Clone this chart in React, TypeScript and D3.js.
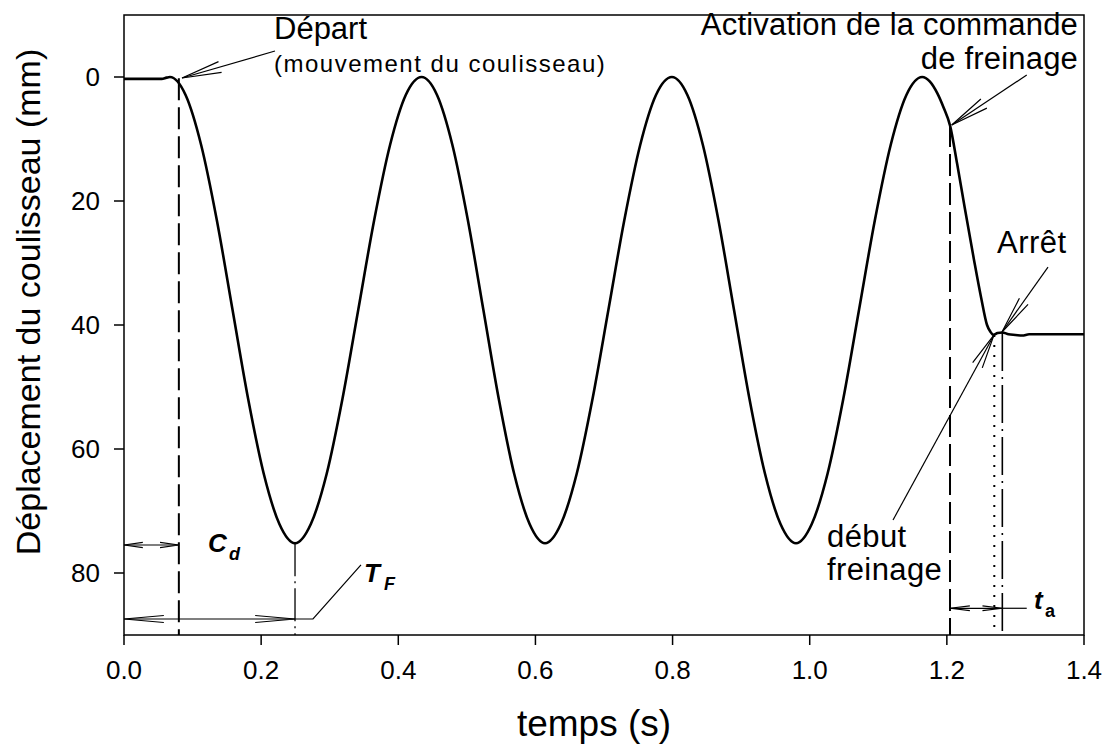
import React from "react";
import * as d3 from "d3";

// ---- Data ----
const timeS = [
  0.0, 0.03, 0.055, 0.062, 0.067,
  0.0898, 0.1126, 0.1354, 0.1582, 0.181, 0.2038, 0.2266, 0.2494,
  0.2725, 0.2956, 0.3186, 0.3417, 0.3648, 0.3879, 0.4109, 0.434,
  0.4565, 0.479, 0.5015, 0.524, 0.5465, 0.569, 0.5915, 0.614,
  0.6371, 0.6602, 0.6833, 0.7065, 0.7296, 0.7527, 0.7758, 0.799,
  0.8216, 0.8443, 0.8669, 0.8895, 0.9121, 0.9348, 0.9574, 0.98,
  1.003, 1.026, 1.049, 1.072, 1.095, 1.118, 1.141, 1.164,
  1.175, 1.186, 1.1955, 1.2046, 1.215, 1.225, 1.2396, 1.25, 1.2586, 1.2635, 1.268,
  1.274, 1.281, 1.29, 1.3, 1.31, 1.32, 1.36, 1.4,
];
const displacementMm = [
  0.3, 0.3, 0.3, 0.1, 0.0,
  2.9, 11.0, 23.1, 37.5, 51.9, 64.0, 72.1, 75.2,
  72.1, 64.0, 51.9, 37.5, 23.1, 11.0, 2.9, 0.0,
  2.9, 11.0, 23.1, 37.5, 51.9, 64.0, 72.1, 75.2,
  72.1, 64.0, 51.9, 37.5, 23.1, 11.0, 2.9, 0.0,
  2.9, 11.0, 23.1, 37.5, 51.9, 64.0, 72.1, 75.2,
  72.1, 64.0, 51.9, 37.5, 23.1, 11.0, 2.9, 0.0,
  0.7, 2.6, 5.0, 7.8, 14.0, 20.4, 29.5, 35.6, 40.0, 41.1, 41.6,
  41.3, 41.2, 41.5, 41.6, 41.7, 41.5, 41.5, 41.5,
];
const xTicks = [0, 0.2, 0.4, 0.6, 0.8, 1.0, 1.2, 1.4];
const yTicks = [0, 20, 40, 60, 80];

// event times (s)
const tStart = 0.08;
const tTrough = 0.2494;
const tCommand = 1.2046;
const tBrake = 1.2692;
const tStop = 1.2809;
// levels (mm)
const troughMm = 75.2;
const commandMm = 7.74;
const brakeMm = 41.6;
const stopMm = 41.3;
const cdLevel = 75.48;
const tfLevel = 87.42;
const taLevel = 85.69;

const W = 1104;
const H = 745;
const FONT = "'Liberation Sans', Arial, Helvetica, sans-serif";

export default function App() {
  const x = d3.scaleLinear().domain([0, 1.4]).range([124, 1084]);
  const y = d3.scaleLinear().domain([-10, 90]).range([15, 635]);
  const pts: [number, number][] = timeS.map((t, i) => [t, displacementMm[i]]);
  const line = d3
    .line<[number, number]>()
    .x((d) => x(d[0]))
    .y((d) => y(d[1]))
    .curve(d3.curveMonotoneX);

  const arrowHead = (
    tx: number, ty: number, fx: number, fy: number, len: number, deg: number
  ) => {
    const a = Math.atan2(fy - ty, fx - tx);
    const r = (deg * Math.PI) / 180;
    const p1 = [tx + len * Math.cos(a + r), ty + len * Math.sin(a + r)];
    const p2 = [tx + len * Math.cos(a - r), ty + len * Math.sin(a - r)];
    return `M${p1[0]},${p1[1]}L${tx},${ty}L${p2[0]},${p2[1]}`;
  };
  const arrow = (
    t1: number, m1: number, t2: number, m2: number, len = 38, deg = 8
  ) => {
    const fx = x(t1), fy = y(m1), tx = x(t2), ty = y(m2);
    return (
      <g>
        <line x1={fx} y1={fy} x2={tx} y2={ty} stroke="#000" strokeWidth={1.2} />
        <path d={arrowHead(tx, ty, fx, fy, len, deg)} fill="none" stroke="#000" strokeWidth={1.2} />
      </g>
    );
  };
  const dbl = (t1: number, t2: number, m: number, len: number, deg: number) => {
    const x1 = x(t1), x2 = x(t2), yy = y(m);
    return (
      <g>
        <line x1={x1} y1={yy} x2={x2} y2={yy} stroke="#000" strokeWidth={1.2} />
        <path d={arrowHead(x1, yy, x2, yy, len, deg)} fill="none" stroke="#000" strokeWidth={1.2} />
        <path d={arrowHead(x2, yy, x1, yy, len, deg)} fill="none" stroke="#000" strokeWidth={1.2} />
      </g>
    );
  };
  const vline = (t: number, m: number, dash: string, w = 2) => (
    <line x1={x(t)} y1={y(m)} x2={x(t)} y2={y(90)} stroke="#000" strokeWidth={w} strokeDasharray={dash} />
  );

  return (
    <svg width={W} height={H} style={{ position: "absolute", left: 0, top: 0, background: "#fff" }} fontFamily={FONT}>
      <rect x={0} y={0} width={W} height={H} fill="#fff" />
      <rect x={x(0)} y={y(-10)} width={x(1.4) - x(0)} height={y(90) - y(-10)} fill="none" stroke="#000" strokeWidth={1.5} />
      {xTicks.map((t) => (
        <g key={"x" + t}>
          <line x1={x(t)} x2={x(t)} y1={y(90)} y2={y(90) + 10} stroke="#000" strokeWidth={1.5} />
          <text x={x(t)} y={679} fontSize={26} textAnchor="middle">{d3.format(".1f")(t)}</text>
        </g>
      ))}
      {yTicks.map((v) => (
        <g key={"y" + v}>
          <line x1={x(0) - 10} x2={x(0)} y1={y(v)} y2={y(v)} stroke="#000" strokeWidth={1.5} />
          <text x={100} y={y(v) + 9} fontSize={26} textAnchor="end">{v}</text>
        </g>
      ))}
      <text x={594} y={736} fontSize={37} textAnchor="middle">temps (s)</text>
      <text transform={`translate(40,302) rotate(-90)`} fontSize={34} textAnchor="middle">Déplacement du coulisseau (mm)</text>

      {vline(tStart, 0.2, "22,7")}
      {vline(tTrough, troughMm, "33,5,2,5", 1.3)}
      {vline(tCommand, commandMm, "22,7")}
      {vline(tBrake, brakeMm, "2,8", 2)}
      {vline(tStop, stopMm, "38,6,2,6", 1.6)}

      <path d={line(pts) || ""} fill="none" stroke="#000" strokeWidth={2.6} strokeLinejoin="round" />

      {dbl(0, tStart, cdLevel, 19, 8)}
      {dbl(0, tTrough, tfLevel, 40, 5)}
      <polyline
        points={`${x(tTrough)},${y(tfLevel)} ${x(0.2756)},${y(tfLevel)} ${x(0.3456)},${y(78.7)}`}
        fill="none" stroke="#000" strokeWidth={1.2}
      />
      {dbl(tCommand, tStop, taLevel, 20, 7)}
      <line x1={x(tStop)} x2={x(1.3165)} y1={y(taLevel)} y2={y(taLevel)} stroke="#000" strokeWidth={1.2} />

      <text x={x(0.1225)} y={y(76.6)} fontSize={26} fontWeight="bold" fontStyle="italic">C</text>
      <text x={x(0.1531)} y={y(77.9)} fontSize={18} fontWeight="bold" fontStyle="italic">d</text>
      <text x={x(0.35)} y={y(81.45)} fontSize={26} fontWeight="bold" fontStyle="italic">T</text>
      <text x={x(0.379)} y={y(82.74)} fontSize={18} fontWeight="bold" fontStyle="italic">F</text>
      <text x={x(1.3271)} y={y(85.8)} fontSize={26} fontWeight="bold" fontStyle="italic">t</text>
      <text x={x(1.3431)} y={y(87.1)} fontSize={18} fontWeight="bold">a</text>

      {arrow(0.2202, -4.19, 0.0846, 0.16, 40, 8)}
      <text x={x(0.21875)} y={y(-6.13)} fontSize={31}>Départ</text>
      <text x={x(0.21875)} y={y(-0.81)} fontSize={24} letterSpacing={1.5}>(mouvement du coulisseau)</text>

      {arrow(1.3165, -0.32, 1.2071, 7.74, 39, 8)}
      <text x={x(1.3913)} y={y(-6.77)} fontSize={31} letterSpacing={0.2} textAnchor="end">Activation de la commande</text>
      <text x={x(1.3913)} y={y(-1.29)} fontSize={31} letterSpacing={0.2} textAnchor="end">de freinage</text>

      {arrow(1.3475, 30.65, 1.2804, 41.13, 38, 8)}
      <text x={x(1.2731)} y={y(28.44)} fontSize={31} letterSpacing={0.5}>Arrêt</text>

      {arrow(1.1215, 71.45, 1.2688, 41.6, 35, 9)}
      <text x={x(1.0252)} y={y(75.85)} fontSize={31} letterSpacing={0.4}>début</text>
      <text x={x(1.0252)} y={y(81.13)} fontSize={31} letterSpacing={0.4}>freinage</text>
    </svg>
  );
}
